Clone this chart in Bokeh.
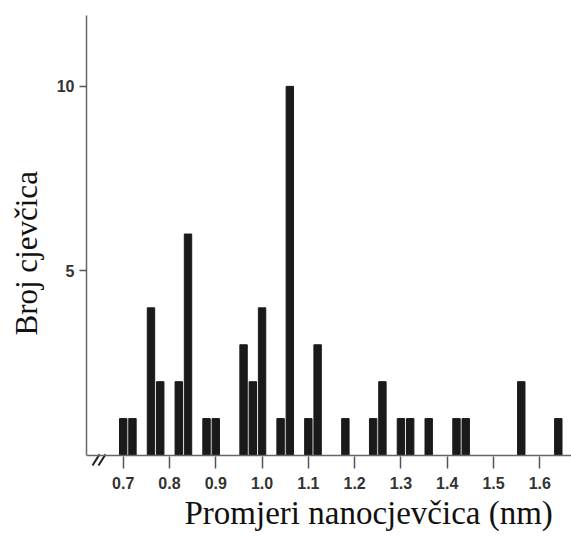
from bokeh.plotting import figure
from bokeh.models import FixedTicker, Span, Title, Range1d, PrintfTickFormatter
from bokeh.embed import file_html
from bokeh.resources import INLINE

# Data
diameters = [0.70, 0.72, 0.76, 0.78, 0.82, 0.84, 0.88, 0.90, 0.96, 0.98,
             1.00, 1.04, 1.06, 1.10, 1.12, 1.18, 1.24, 1.26, 1.30, 1.32,
             1.36, 1.42, 1.44, 1.56, 1.64]
counts = [1, 1, 4, 2, 2, 6, 1, 1, 3, 2,
          4, 1, 10, 1, 3, 1, 1, 2, 1, 1,
          1, 1, 1, 2, 1]
x_ticks = [0.7, 0.8, 0.9, 1.0, 1.1, 1.2, 1.3, 1.4, 1.5, 1.6]
y_ticks = [5, 10]
x_label = "Promjeri nanocjevčica (nm)"
y_label = "Broj cjevčica"

Y_TOP = 11.92
p = figure(width=571, height=539, output_backend="svg", toolbar_location=None,
           x_range=Range1d(0.6207, 1.6685), y_range=Range1d(-0.352, Y_TOP),
           min_border_left=86, min_border_right=0, min_border_top=15,
           min_border_bottom=71)
p.outline_line_color = None
p.grid.visible = False
p.background_fill_color = "white"

p.vbar(x=diameters, top=counts, bottom=0, width=0.016,
       fill_color="#1a1a1a", line_color="#1a1a1a")

# baseline of the x axis
p.add_layout(Span(location=0, dimension="width", line_color="#666666",
                  line_width=1.5))

# axis break marks "//"
p.segment(x0=[0.6337, 0.6466], y0=[-0.27, -0.27],
          x1=[0.6488, 0.6617], y1=[0.03, 0.03],
          line_color="#222222", line_width=2)

ax = p.xaxis[0]
ax.ticker = FixedTicker(ticks=x_ticks)
ax.formatter = PrintfTickFormatter(format="%.1f")
ax.axis_line_color = None
ax.major_tick_in = 12
ax.major_tick_out = 0
ax.minor_tick_line_color = None
ax.major_tick_line_color = "#555555"
ax.major_tick_line_width = 1.5
ax.major_label_standoff = 8
ax.major_label_text_font = "Liberation Sans"
ax.major_label_text_font_size = "16px"
ax.major_label_text_font_style = "bold"
ax.major_label_text_color = "#333333"

ay = p.yaxis[0]
ay.bounds = (0, Y_TOP)
ay.ticker = FixedTicker(ticks=y_ticks)
ay.axis_line_color = "#666666"
ay.axis_line_width = 1.5
ay.major_tick_in = 0
ay.major_tick_out = 7
ay.minor_tick_line_color = None
ay.major_tick_line_color = "#555555"
ay.major_tick_line_width = 1.5
ay.major_label_standoff = 5
ay.major_label_text_font = "Liberation Sans"
ay.major_label_text_font_size = "16px"
ay.major_label_text_font_style = "bold"
ay.major_label_text_color = "#333333"

# axis titles
ty = Title(text=y_label, align="left", vertical_align="top", offset=133,
           standoff=15, text_font="Liberation Serif", text_font_size="31px",
           text_font_style="normal", text_color="#111111")
p.add_layout(ty, "left")

tx = Title(text=x_label, align="left", vertical_align="top", offset=98,
           standoff=7, text_font="Liberation Serif", text_font_size="33px",
           text_font_style="normal", text_color="#111111")
p.add_layout(tx, "below")

open("out.html", "w").write(file_html(p, INLINE))
